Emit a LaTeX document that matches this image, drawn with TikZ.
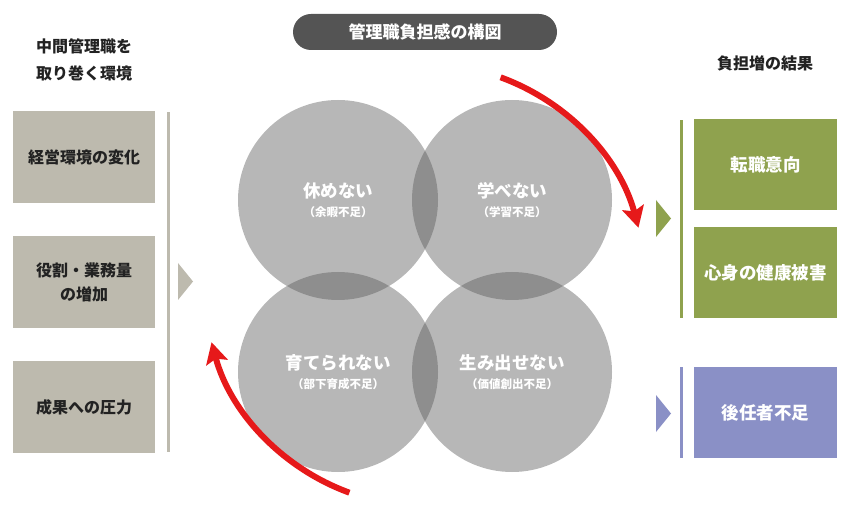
\documentclass[tikz,border=0pt]{standalone}
\usepackage{fontspec}
\setmainfont{Noto Sans CJK JP}
\usetikzlibrary{arrows.meta}

\definecolor{envtan}{HTML}{BDBAAE}
\definecolor{resgreen}{HTML}{8FA24E}
\definecolor{respurple}{HTML}{8A90C6}
\definecolor{loopred}{HTML}{E6191A}
\definecolor{pillgray}{HTML}{545454}
\definecolor{circgray}{HTML}{585858}
\definecolor{inkdark}{HTML}{222222}

\newcommand{\subtxt}{\fontsize{11.5}{13}\selectfont}

\begin{document}
\begin{tikzpicture}[x=1pt, y=1pt, >={Stealth[width=22pt,length=21pt,inset=4pt]},
    envbox/.style={fill=envtan, minimum width=142pt, minimum height=92pt, align=center,
        text=inkdark, font=\fontsize{16}{24}\selectfont\bfseries},
    resbox/.style={minimum width=143pt, minimum height=91pt, text=white,
        font=\fontsize{17.5}{21}\selectfont\bfseries},
    burden/.style={circle, minimum size=200pt, fill=circgray, fill opacity=0.43,
        text opacity=1, text=white, align=center, font=\fontsize{17.5}{19}\selectfont\bfseries},
    looparrow/.style={->, loopred, line width=6pt},
    heading/.style={align=center, text=inkdark, font=\fontsize{16}{27}\selectfont\bfseries}]

    \useasboundingbox (0,0) rectangle (858,506);

    % title pill
    \node[fill=pillgray, rounded corners=18pt, minimum width=264pt, minimum height=36pt,
        text=white, font=\fontsize{17}{20}\selectfont\bfseries] (title) at (425,474) {管理職負担感の構図};

    % left column
    \node[heading] (envhead) at (84,446) {中間管理職を\\取り巻く環境};
    \node[envbox] (env1) at (84,348.5) {経営環境の変化};
    \node[envbox] (env2) at (84,224) {役割・業務量\\の増加};
    \node[envbox] (env3) at (84,99) {成果への圧力};
    \fill[envtan] (167,54) rectangle (170,394);
    \fill[envtan] (178,243) -- (193,224.5) -- (178,206) -- cycle;

    % four circles
    \node[burden] (rest) at (338,306) {休めない\\{\subtxt （余暇不足）}};
    \node[burden] (learn) at (512,306) {学べない\\{\subtxt （学習不足）}};
    \node[burden] (raise) at (338,134) {育てられない\\{\subtxt （部下育成不足）}};
    \node[burden] (create) at (512,134) {生み出せない\\{\subtxt （価値創出不足）}};

    % red cycle
    \coordinate (hub) at (425,221);
    \draw[looparrow] (hub) ++(70:221) arc[start angle=70, end angle=15, radius=221];
    \draw[looparrow] (hub) ++(250:221) arc[start angle=250, end angle=195, radius=221];

    % right column
    \node[heading] (reshead) at (765,443) {負担増の結果};
    \node[resbox, fill=resgreen] (quit) at (765.5,341) {転職意向};
    \node[resbox, fill=resgreen] (health) at (765.5,233.5) {心身の健康被害};
    \node[resbox, fill=respurple] (succ) at (765.5,93.5) {後任者不足};
    \fill[resgreen] (680,188) rectangle (683,386);
    \fill[resgreen] (656,306) -- (671,287.5) -- (656,269) -- cycle;
    \fill[respurple] (680,48) rectangle (683,139);
    \fill[respurple] (656,111) -- (671,92.5) -- (656,74) -- cycle;
\end{tikzpicture}
\end{document}
